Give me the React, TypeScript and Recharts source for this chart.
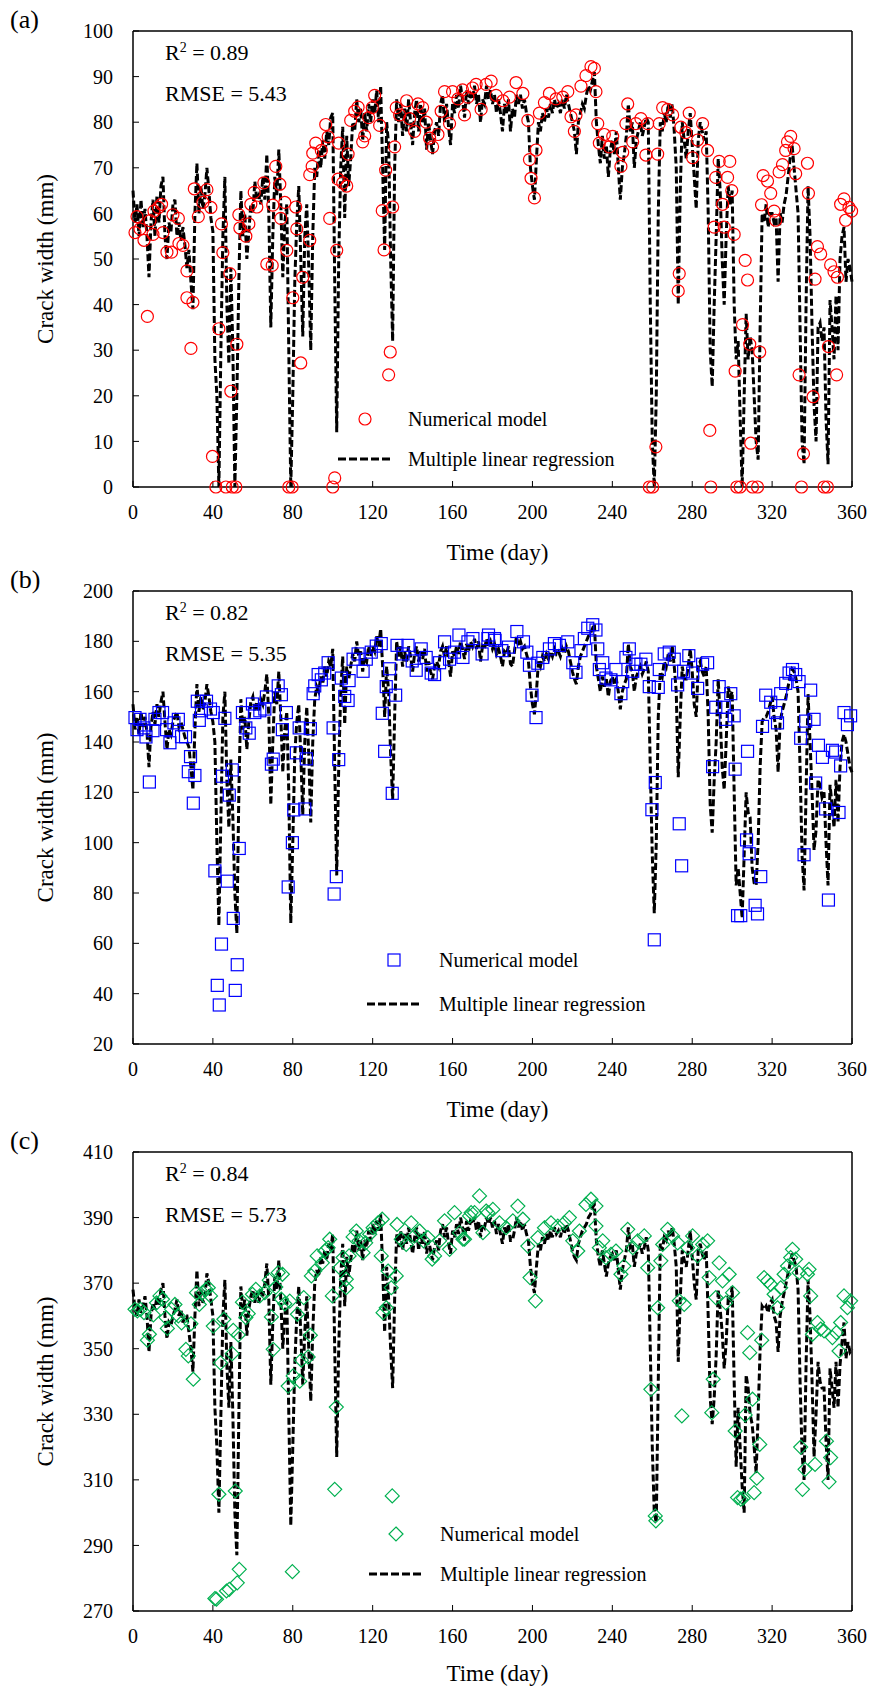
import { ComposedChart, Line, Scatter, XAxis, YAxis, ReferenceLine } from 'recharts'

// day axis shared by the three panels
const dayTicks = [0, 40, 80, 120, 160, 200, 240, 280, 320, 360]
const ticksA = [0, 10, 20, 30, 40, 50, 60, 70, 80, 90, 100]
const ticksB = [20, 40, 60, 80, 100, 120, 140, 160, 180, 200]
const ticksC = [270, 290, 310, 330, 350, 370, 390, 410]

// multiple linear regression, one value per day (day = index)
const regA = [
  65, 58, 62, 55, 63, 57, 61, 55, 46, 58, 63, 55, 64, 58, 66, 68, 55, 50, 58, 56,
  62, 63, 55, 58, 54, 57, 53, 48, 52, 45, 39, 60, 71, 60, 66, 61, 64, 70, 65, 59,
  56, 28, 20, 0, 30, 55, 68, 40, 27, 48, 30, 0, 20, 45, 65, 55, 60, 50, 56, 62,
  60, 67, 63, 64, 62, 68, 63, 73, 60, 35, 55, 68, 64, 74, 62, 46, 58, 62, 30, 0,
  20, 45, 58, 66, 50, 33, 55, 62, 48, 30, 55, 70, 68, 74, 70, 76, 72, 78, 75, 81,
  82, 45, 12, 50, 70, 79, 59, 77, 66, 72, 80, 78, 85, 80, 83, 76, 82, 78, 84, 80,
  85, 82, 87, 80, 88, 70, 52, 80, 75, 50, 32, 70, 85, 80, 84, 77, 83, 78, 85, 80,
  75, 82, 85, 78, 84, 80, 83, 74, 80, 76, 73, 78, 80, 77, 84, 86, 80, 84, 79, 75,
  84, 82, 86, 83, 88, 85, 81, 87, 84, 86, 85, 88, 84, 86, 80, 85, 84, 88, 85, 87,
  84, 86, 82, 85, 82, 78, 84, 82, 85, 78, 83, 81, 86, 84, 86, 83, 85, 82, 80, 70,
  66, 63, 72, 80, 78, 82, 80, 83, 81, 84, 82, 85, 83, 84, 82, 85, 83, 86, 84, 82,
  80, 78, 73, 80, 82, 84, 83, 86, 88, 87, 89, 91, 80, 75, 71, 77, 72, 75, 68, 74,
  76, 73, 78, 70, 63, 70, 73, 77, 84, 78, 80, 70, 76, 78, 80, 77, 79, 81, 80, 40,
  10, 0, 20, 60, 80, 78, 82, 80, 84, 81, 84, 78, 70, 40, 65, 80, 76, 72, 78, 82,
  75, 68, 61, 76, 80, 78, 76, 78, 60, 30, 22, 40, 55, 72, 65, 50, 40, 55, 66, 62,
  65, 40, 28, 32, 15, 0, 20, 38, 28, 33, 30, 20, 10, 6, 35, 60, 58, 62, 57, 60,
  60, 58, 59, 45, 60, 58, 62, 64, 68, 72, 75, 70, 65, 60, 35, 10, 5, 40, 66, 55,
  35, 18, 10, 35, 36, 32, 35, 15, 5, 41, 35, 28, 42, 30, 50, 55, 57, 45, 50, 48,
  45,
]

const regB = [
  155, 145, 150, 143, 152, 146, 150, 144, 130, 146, 152, 147, 155, 150, 156, 160, 148, 137, 145, 143,
  148, 150, 152, 146, 148, 145, 142, 140, 138, 130, 121, 145, 163, 152, 158, 153, 156, 163, 158, 152,
  148, 140, 100, 67, 110, 150, 160, 125, 106, 133, 110, 80, 64, 120, 157, 145, 150, 137, 148, 156,
  158, 152, 156, 152, 157, 155, 160, 167, 150, 115, 140, 160, 155, 168, 150, 128, 145, 152, 120, 68,
  100, 135, 148, 155, 135, 111, 140, 154, 135, 108, 140, 157, 162, 160, 166, 163, 170, 166, 172, 170,
  177, 130, 87, 130, 160, 174, 147, 170, 165, 170, 175, 172, 180, 174, 176, 168, 174, 172, 178, 174,
  178, 176, 182, 178, 185, 170, 150, 170, 160, 135, 117, 150, 180, 174, 178, 170, 176, 172, 178, 174,
  168, 175, 178, 172, 176, 173, 177, 168, 172, 168, 165, 170, 172, 170, 176, 178, 174, 178, 172, 166,
  176, 174, 178, 175, 180, 177, 173, 179, 176, 180, 178, 181, 177, 180, 172, 178, 177, 181, 178, 180,
  177, 179, 175, 177, 174, 170, 176, 175, 178, 171, 170, 176, 182, 178, 180, 177, 178, 175, 172, 162,
  155, 151, 160, 172, 170, 174, 172, 175, 173, 176, 174, 177, 175, 176, 174, 177, 175, 178, 176, 172,
  168, 165, 163, 170, 174, 176, 178, 180, 182, 183, 185, 187, 170, 165, 160, 166, 162, 165, 158, 164,
  166, 163, 165, 160, 153, 160, 163, 165, 179, 170, 168, 160, 166, 168, 170, 167, 169, 172, 168, 130,
  95, 72, 100, 150, 168, 166, 172, 170, 175, 172, 178, 170, 160, 126, 150, 170, 165, 165, 170, 177,
  168, 155, 150, 170, 172, 168, 166, 170, 150, 115, 104, 125, 140, 165, 150, 130, 121, 140, 162, 158,
  160, 120, 83, 90, 80, 70, 95, 120, 112, 110, 90, 84, 83, 100, 130, 148, 150, 150, 152, 155,
  158, 150, 145, 128, 148, 152, 155, 158, 162, 166, 169, 168, 165, 160, 130, 95, 81, 120, 159, 140,
  120, 97, 105, 125, 123, 118, 120, 100, 83, 123, 115, 106, 125, 108, 130, 140, 143, 140, 135, 130,
  128,
]

const regC = [
  368, 362, 360, 365, 361, 363, 366, 360, 349, 360, 364, 362, 366, 363, 368, 370, 360, 353, 358, 357,
  360, 362, 365, 360, 362, 358, 360, 360, 355, 350, 343, 360, 374, 363, 368, 364, 366, 373, 370, 365,
  360, 332, 320, 300, 330, 360, 371, 345, 332, 352, 330, 300, 287, 330, 369, 362, 365, 354, 362, 366,
  368, 364, 367, 364, 368, 366, 370, 376, 365, 339, 358, 372, 368, 377, 365, 350, 360, 366, 330, 296,
  320, 345, 360, 369, 355, 339, 355, 366, 350, 334, 355, 370, 374, 372, 378, 376, 380, 377, 382, 380,
  385, 350, 317, 350, 372, 382, 363, 378, 372, 377, 382, 379, 386, 380, 383, 377, 383, 381, 386, 383,
  388, 385, 389, 386, 391, 375, 355, 375, 365, 350, 338, 365, 385, 381, 386, 380, 385, 382, 387, 383,
  379, 384, 387, 380, 385, 382, 386, 379, 383, 380, 377, 381, 383, 380, 386, 388, 384, 387, 382, 379,
  386, 384, 388, 385, 390, 387, 383, 389, 386, 389, 388, 390, 386, 389, 384, 388, 387, 390, 388, 390,
  387, 389, 385, 388, 385, 382, 387, 385, 388, 383, 383, 386, 390, 387, 389, 386, 388, 385, 383, 375,
  370, 367, 375, 382, 380, 384, 382, 385, 383, 386, 384, 387, 385, 386, 384, 387, 385, 388, 386, 383,
  380, 378, 377, 382, 384, 386, 387, 388, 390, 391, 393, 394, 383, 378, 375, 380, 376, 372, 376, 378,
  379, 377, 380, 374, 368, 374, 377, 380, 387, 381, 382, 375, 379, 380, 382, 379, 381, 384, 380, 350,
  320, 300, 297, 340, 382, 380, 384, 383, 386, 384, 387, 382, 375, 346, 365, 380, 377, 375, 380, 386,
  378, 370, 365, 380, 382, 379, 377, 380, 360, 335, 327, 335, 348, 368, 362, 355, 344, 352, 365, 364,
  369, 340, 314, 332, 320, 308, 300, 342, 338, 330, 327, 320, 312, 330, 350, 363, 362, 363, 361, 364,
  365, 360, 358, 349, 360, 364, 367, 370, 373, 376, 379, 377, 375, 368, 340, 318, 310, 345, 371, 360,
  340, 317, 330, 346, 340, 338, 338, 322, 310, 344, 338, 332, 346, 332, 345, 352, 358, 347, 352, 349,
  350,
]

// numerical model results: [day, crack width]
const numA: [number, number][] = [
  [1, 55.8], [2, 59.3], [3.5, 56.6], [5.5, 54.1], [7.2, 37.4], [8.5, 58.4], [10, 55.4], [10.5, 60.5], [12.7, 61.3], [14.3, 62],
  [15, 55.8], [17, 51.5], [19.3, 51.5], [20, 59.7], [22.7, 58.9], [23, 53.4], [25, 53], [27, 47.4], [27, 41.5], [29, 30.4],
  [30, 40.5], [30.7, 65.4], [32.7, 59.3], [35, 62.4], [37, 65.2], [39, 61.3], [39.8, 6.7], [41.5, 0], [43, 34.7], [44.3, 57.7],
  [45, 51.4], [46.5, 0], [48.5, 46.8], [49, 21], [49.7, 0], [51.5, 0], [52, 31.3], [53, 59.7], [53.5, 56.8], [56.5, 55],
  [58, 57.7], [59, 62], [60.7, 64.6], [62, 61.4], [65.5, 66.7], [67, 48.9], [69.7, 48.6], [70, 61.8], [71.5, 70.3], [73.5, 66.4],
  [74, 58.9], [76, 62.4], [77, 51.9], [78, 0], [79.7, 0], [80, 41.5], [81.5, 61.4], [82, 56.6], [84, 27.2], [85, 46],
  [88.5, 54.1], [88.5, 68.5], [89.7, 70.3], [90, 73.2], [91.5, 75.4], [94.3, 73.8], [96.5, 79.5], [97.7, 76.8], [98.5, 58.9], [100, 0],
  [101, 2], [102, 51.9], [102.7, 67.5], [103, 75.4], [105, 66.7], [107, 66], [107.7, 73], [109, 80.4], [111, 82.4], [112.7, 83.3],
  [115, 75.7], [116, 77], [118, 81], [119.8, 83.2], [121, 85.9], [123.5, 79.3], [124.8, 60.6], [125.7, 52], [126.5, 69.5], [128, 24.6],
  [128.8, 29.6], [130, 61.4], [131, 74.6], [131.8, 83.2], [133.5, 81.6], [137, 84.7], [138.5, 80.8], [141, 78], [142.7, 84], [145, 83.2],
  [146.8, 80], [148.5, 76.5], [150, 74.6], [152.7, 77.3], [154.3, 82.4], [156, 86.7], [158.5, 79.7], [160, 86.7], [162.7, 85.1], [165, 87.1],
  [166, 81.6], [167.7, 85.5], [170, 87.5], [171.8, 88.3], [174.3, 82.8], [176.8, 88.3], [179.3, 89], [181.8, 85.9], [185.2, 84.7], [188.5, 85.5],
  [191.8, 88.7], [195.2, 86.3], [197.7, 80.4], [198.5, 71.8], [199.3, 67.7], [201, 63.4], [201.8, 73.9], [203.5, 82], [206, 84.3], [208.5, 86.3],
  [211.8, 85.1], [215.2, 85.5], [217.7, 86.7], [219.3, 81.2], [221, 78], [221.8, 81.6], [224.3, 87.9], [226.8, 90.2], [229.3, 92.2], [231, 91.8],
  [231.8, 86.7], [232.7, 79.7], [233.5, 75.4], [236, 77.3], [238.5, 74.6], [240.2, 76.9], [244.3, 70.3], [245.2, 73.4], [246.8, 79.7], [247.7, 84],
  [250.2, 75.7], [251.8, 79.7], [254.3, 80.8], [256.8, 72.8], [257.7, 79.7], [258.5, 0], [260.2, 0], [261.8, 8.8], [262.7, 73], [263.5, 79.7],
  [265.2, 83.2], [267.7, 82.8], [270.2, 81.6], [273, 43], [273.5, 46.8], [274.3, 78.9], [276.8, 77.7], [278.5, 82], [280.2, 72.2], [282.7, 76.1],
  [285.2, 79.7], [287.7, 73.8], [288.8, 12.4], [289.3, 0], [291, 57], [291.8, 67.9], [293.5, 71.4], [295.2, 62], [296, 57], [297.7, 67.9],
  [298.8, 71.4], [299.8, 65], [301, 55.4], [301.5, 25.4], [302.3, 0], [304, 0], [305.2, 35.6], [306.5, 49.7], [307.7, 45.4], [308.8, 31.3],
  [309.3, 9.6], [310.2, 0], [312.7, 0], [313.8, 29.6], [314.7, 61.9], [315.5, 68.3], [317.7, 67.1], [319.3, 64.4], [321, 60.5], [321.8, 58.5],
  [323.5, 69.1], [325.2, 70.7], [326.8, 73.8], [327.7, 75.7], [329.3, 76.9], [331, 74.2], [331.8, 68.7], [333.5, 24.6], [334.7, 0], [335.7, 7.3],
  [337.7, 71], [338.2, 64.4], [340.5, 19.8], [341.5, 45.6], [342.7, 52.7], [344.3, 51.1], [346, 0], [347.7, 0], [348.2, 30.8], [349.3, 48.7],
  [351, 47.2], [352.3, 24.6], [352.7, 46], [354.3, 62], [356, 63.2], [356.8, 58.5], [358.5, 61.3], [359.8, 60.5],
]

const numB: [number, number][] = [
  [1, 149.7], [2, 144.9], [3.5, 149], [5.5, 145.6], [6.5, 142], [8.2, 124.1], [10, 144.5], [11, 149], [13, 151.7], [14.8, 151.7],
  [16.8, 144.9], [18.5, 139.7], [20.5, 147.6], [22.7, 149], [24.3, 142.1], [26.3, 142.1], [27.7, 128.2], [28.8, 134.2], [30.2, 115.7], [31, 126.7],
  [32.2, 156.2], [33.2, 148.6], [34.3, 152.4], [36.8, 156.2], [38.8, 153.1], [40.2, 151.7], [41, 88.8], [42.2, 43.3], [43.2, 35.5], [44.3, 59.7],
  [44.8, 126.4], [46, 149.4], [47.2, 84.7], [48.2, 118.9], [49.7, 128.9], [50.2, 69.9], [51.2, 41.3], [52.2, 51.5], [53.2, 97.7], [54.8, 151.7],
  [56.5, 145.6], [58.2, 143.5], [59.8, 155.1], [61, 151.7], [63.5, 152.4], [66, 153.1], [66.8, 157.9], [69.3, 131.2], [70.2, 133.2], [72.7, 162.3],
  [74.3, 158.8], [74.8, 144.9], [76.8, 151.7], [77.7, 82.4], [79.8, 100], [80.5, 113], [81.8, 135.7], [83.2, 145.6], [86, 113.4], [86.8, 133.3],
  [88.8, 145.3], [90.2, 159.2], [91, 162.3], [92.7, 166.8], [94.3, 164.7], [96, 167.4], [97.7, 171.5], [100.2, 145.6], [100.7, 79.6], [101.8, 86.5],
  [103, 133], [104.3, 165.4], [106, 158.1], [107.7, 156.5], [108.2, 164.4], [110.2, 172.9], [112.7, 175], [115.2, 168.1], [116.8, 172.9], [119.3, 175.7],
  [121.8, 178.1], [124.3, 179.1], [124.8, 151.4], [126, 136.3], [126.8, 162], [128.5, 169.1], [129.8, 119.6], [131.5, 158.6], [132.2, 178.4], [135.2, 175],
  [137.7, 178.4], [139.8, 172.2], [141.8, 168.5], [144.3, 177], [146.8, 173.6], [149.3, 167.4], [151, 166.8], [153.5, 171.5], [156, 179.8], [158.5, 172.9],
  [161, 175.7], [163.2, 182.5], [165.2, 173.6], [167.7, 179.8], [170.2, 181.1], [174.8, 175], [177.7, 181.1], [178, 182.5], [181, 181.1], [181.3, 180.4],
  [184.7, 176.3], [188, 177.7], [192.2, 183.9], [195.5, 179.8], [197.2, 175.7], [198.5, 170.5], [199.8, 158.6], [201.8, 149.7], [202.7, 171.3], [205.2, 173.6],
  [208.5, 177], [211, 179.1], [213.5, 178.4], [217.7, 179.8], [220.2, 171.5], [221.8, 167.7], [224.3, 176.3], [226, 181.1], [227.7, 185.2], [230.2, 186.6],
  [231.8, 184.5], [232.7, 177], [233.5, 168.8], [235.2, 171.5], [236.8, 165.4], [239.3, 164.7], [241.8, 168.8], [244.3, 159.2], [245.2, 164], [246.8, 173.6],
  [248.5, 177], [250.2, 168.1], [251.8, 170.9], [254.3, 170.9], [256.8, 172.9], [258.5, 162], [259.8, 113.1], [261, 61.4], [261.5, 123.9], [263, 161.7],
  [263.5, 168.8], [266, 175], [268.5, 175.7], [271, 172.9], [272.7, 162.7], [273.5, 107.5], [274.7, 90.8], [275.7, 168.1], [278.3, 174.3], [280.2, 167.4],
  [282.7, 161.3], [285.2, 170.9], [287.7, 171.5], [290.2, 130.2], [291.8, 153.8], [293.5, 162], [296, 153.8], [296.8, 149], [299.3, 159.2], [301, 150.4],
  [301.5, 129.2], [302.7, 71], [304.3, 71], [307.2, 101.1], [307.7, 136.3], [308.5, 95.6], [311.5, 75.1], [312.7, 71.7], [314.3, 86.5], [315.2, 146.2],
  [316.8, 158.6], [319.3, 155.8], [321.8, 151.7], [322.7, 147.6], [324.3, 159.2], [326.8, 163.3], [328.5, 167.4], [330.2, 168.8], [331.8, 166.8], [333.5, 164],
  [334.3, 141.5], [336, 95.2], [336.8, 148.3], [339.3, 160.6], [341, 149], [341.8, 123.7], [343.2, 138.7], [345.2, 133.9], [346.8, 113.4], [348.2, 77.2],
  [350.2, 136.7], [351.8, 136], [353.5, 112], [354.3, 130.5], [356, 151.7], [357.7, 146.9], [359.3, 150.4],
]

const numC: [number, number][] = [
  [1, 362], [2.2, 361.5], [3.8, 362], [5.5, 361], [7.2, 352.6], [8.2, 354.4], [10.2, 360.3], [11.8, 364], [13.5, 366.1], [14.8, 365.1],
  [16.5, 359.5], [17.2, 356.2], [19.3, 362], [21, 363.5], [22.7, 360], [24.3, 357.9], [26.5, 349.8], [27.7, 347.8], [29, 357.6], [30.2, 340.7],
  [31.8, 367.1], [33.2, 363.5], [34.8, 367.1], [36.5, 368.1], [37.7, 368.6], [38.8, 366.1], [40.2, 356.9], [41, 273.8], [41.8, 273.6], [43, 305.6],
  [43.8, 345.7], [45.5, 359], [46.8, 276.1], [48.2, 276.6], [49.7, 348.5], [50.2, 355.6], [51.2, 306.6], [52.2, 278.6], [52.7, 354.2], [53.2, 282.7],
  [54.8, 364.2], [56.5, 359.5], [57.7, 360.7], [59.8, 366.6], [61.5, 368.1], [63.5, 366.1], [66, 367.1], [68.2, 370.9], [69.3, 359.7], [70.2, 349.8],
  [71.5, 368.8], [72.7, 373.2], [74.3, 365.1], [74.8, 372.7], [76, 363.7], [77.7, 338.6], [78.5, 364.5], [79.8, 282], [80.2, 341.7], [82.3, 360.5],
  [83.5, 340.1], [84.3, 346.5], [85.5, 365.6], [87.7, 347.5], [88.8, 354.1], [89.3, 372.2], [91, 373.7], [92.2, 378.3], [94.8, 376.2], [96, 379.8],
  [97.7, 380.8], [98.5, 383.4], [99.8, 366.1], [101, 307.1], [101.8, 332.2], [103.5, 374.7], [105.2, 377.8], [106.8, 371.2], [106.8, 368.6], [108.2, 378.3],
  [110.2, 384.1], [111.8, 385.9], [113.2, 382.9], [115.2, 379.3], [116.5, 382.3], [118.5, 384.9], [120.2, 386.9], [122.7, 388.4], [124.3, 378.3], [124.8, 389.5],
  [125.2, 361], [126.8, 362.5], [127.7, 373.7], [129.3, 368.6], [129.8, 305.1], [131.8, 372.2], [132.2, 387.9], [134.3, 383.4], [136.8, 381.8], [139.3, 388.4],
  [141, 384.4], [143.5, 385.9], [145.5, 382.9], [147.7, 383.9], [149.8, 377.3], [151, 378.3], [153.5, 382.9], [156, 389], [158.5, 380.3], [161, 391.5],
  [163.5, 385.4], [165.2, 383.4], [166, 383.4], [168.5, 390.5], [169.3, 391.5], [171, 391.5], [173.5, 396.6], [175.2, 385.4], [176.8, 392], [177.7, 391.5],
  [180.2, 392.5], [183.5, 388.4], [186.8, 386.9], [190.2, 389], [192.7, 393.5], [195.2, 389.5], [197.7, 381.3], [198.8, 371.7], [201.5, 364.6], [202.7, 383.9],
  [206, 386.9], [209.3, 388.4], [212.7, 387.4], [216, 388.4], [218.5, 390], [220.2, 382.9], [222.7, 379.8], [223.5, 385.9], [226.8, 394], [229.3, 395.6],
  [231.8, 393.5], [231.8, 387.4], [233.5, 380.8], [235.2, 382.9], [236.8, 377.8], [239.3, 378.8], [241.8, 379.8], [244.3, 372.7], [245.8, 375.2], [247.7, 386.4],
  [250.2, 380.8], [252.7, 382.9], [256, 384.4], [257.7, 374.7], [259.3, 337.6], [261.5, 299], [261.8, 297.5], [262.7, 362.5], [264.3, 376.8], [265.2, 381.8],
  [267.7, 386.4], [270.2, 384.4], [272.7, 382.3], [273.5, 364.6], [274.8, 329.5], [276, 363.5], [277.7, 380.8], [280.2, 384.4], [282.7, 378.3], [285.2, 381.8],
  [287.7, 382.9], [288.5, 371.7], [289.8, 330.5], [290.5, 340.7], [291.8, 365.6], [293.5, 376.2], [295.2, 370.7], [296.8, 364], [298.5, 372.7], [300.2, 367.1],
  [301.5, 324.9], [302.7, 304.6], [304.3, 304.1], [305.5, 304.4], [306.5, 329.8], [307.7, 354.9], [308.8, 348.8], [310.2, 334.6], [311, 306.1], [312.3, 310.5],
  [313.8, 320.8], [314.8, 352.6], [316, 371.7], [317.7, 370.7], [319.3, 369.6], [321, 366.6], [322.7, 362.5], [324.3, 368.6], [326, 372.7], [327.7, 375.2],
  [329.3, 377.8], [330.2, 380.3], [331.8, 377.3], [333.5, 373.2], [334.3, 320], [335.2, 307.1], [336.5, 313.2], [337.7, 372.7], [338.5, 374.2], [339.3, 366.1],
  [340.2, 354.4], [341.5, 314.7], [342.7, 358], [344.3, 356], [346, 355.4], [347.2, 321.8], [348.5, 309.4], [349.3, 316.8], [350.2, 353.4], [352.2, 354.9],
  [353.5, 349.3], [354.3, 358], [356, 366.1], [357.7, 362.5], [359.3, 364.6],
]

const serif = "'Liberation Serif', 'DejaVu Serif', Tinos, 'Times New Roman', Times, serif"

type Kind = 'circle' | 'square' | 'diamond'

function Mark({ kind, color, cx, cy }: { kind: Kind; color: string; cx: number; cy: number }) {
  if (kind === 'circle') return <circle cx={cx} cy={cy} r={6} fill="none" stroke={color} strokeWidth={1.2} />
  if (kind === 'square') return <rect x={cx - 6} y={cy - 6} width={12} height={12} fill="none" stroke={color} strokeWidth={1.2} />
  return <path d={`M${cx},${cy - 7}L${cx + 7},${cy}L${cx},${cy + 7}L${cx - 7},${cy}Z`} fill="none" stroke={color} strokeWidth={1.2} />
}

interface PanelProps {
  tag: string
  top: number
  height: number
  mTop: number
  mBottom: number
  xHeight: number
  ticks: number[]
  reg: number[]
  num: [number, number][]
  kind: Kind
  color: string
  r2: string
  rmse: string
  legend: { mx: number; my: number; ly: number; x1: number; x2: number; tx: number }
}

function Panel(p: PanelProps) {
  const regData = p.reg.map((v, d) => ({ d, v }))
  const numData = p.num.map(([d, v]) => ({ d, v }))
  const yMin = p.ticks[0]
  const yMax = p.ticks[p.ticks.length - 1]
  const plotTop = p.mTop
  const txt = { position: 'absolute' as const, fontFamily: serif, color: '#000', whiteSpace: 'nowrap' as const }
  const lg = p.legend

  return (
    <div style={{ position: 'absolute', left: 0, top: p.top, width: 872, height: p.height }}>
      <ComposedChart
        width={872}
        height={p.height}
        margin={{ top: p.mTop, right: 20, bottom: p.mBottom, left: 13 }}
        style={{ fontFamily: serif }}
      >
        <XAxis
          type="number"
          dataKey="d"
          domain={[0, 360]}
          ticks={dayTicks}
          height={p.xHeight}
          tickSize={-6}
          tickMargin={24}
          axisLine={{ stroke: '#000', strokeWidth: 1.5 }}
          tickLine={{ stroke: '#000', strokeWidth: 1 }}
          tick={{ fill: '#000', fontSize: 20, fontFamily: serif }}
          label={{ value: 'Time (day)', position: 'insideBottom', offset: 0, dx: 5, fill: '#000', fontSize: 23, fontFamily: serif }}
        />
        <YAxis
          type="number"
          domain={[yMin, yMax]}
          ticks={p.ticks}
          width={120}
          tickSize={-6}
          tickMargin={26}
          axisLine={{ stroke: '#000', strokeWidth: 1.5 }}
          tickLine={{ stroke: '#000', strokeWidth: 1 }}
          tick={{ fill: '#000', fontSize: 20, fontFamily: serif }}
          label={{
            value: 'Crack width (mm)',
            angle: -90,
            position: 'insideLeft',
            offset: 32,
            fill: '#000',
            fontSize: 23,
            fontFamily: serif,
            style: { textAnchor: 'middle' },
          }}
        />
        <ReferenceLine y={yMax} stroke="#000" strokeWidth={1.5} />
        <ReferenceLine x={360} stroke="#000" strokeWidth={1.5} />
        <Scatter
          data={numData}
          dataKey="v"
          isAnimationActive={false}
          shape={(s: any) => <Mark kind={p.kind} color={p.color} cx={s.cx} cy={s.cy} />}
        />
        <Line
          data={regData}
          dataKey="v"
          type="linear"
          stroke="#000"
          strokeWidth={3}
          strokeDasharray="7 3"
          dot={false}
          activeDot={false}
          isAnimationActive={false}
        />
      </ComposedChart>

      <div style={{ ...txt, left: 10, top: plotTop - 24, fontSize: 26, lineHeight: '26px' }}>({p.tag})</div>
      <div style={{ ...txt, left: 165, top: plotTop + 22 - 12, fontSize: 22, lineHeight: '24px' }}>
        R<sup style={{ fontSize: 14, verticalAlign: 'top', lineHeight: '14px' }}>2</sup> = {p.r2}
      </div>
      <div style={{ ...txt, left: 165, top: plotTop + 63 - 12, fontSize: 22, lineHeight: '24px' }}>RMSE = {p.rmse}</div>

      <svg width={872} height={p.height} style={{ position: 'absolute', left: 0, top: 0, pointerEvents: 'none' }}>
        <Mark kind={p.kind} color={p.color} cx={lg.mx} cy={lg.my} />
        <line x1={lg.x1} x2={lg.x2} y1={lg.ly} y2={lg.ly} stroke="#000" strokeWidth={3} strokeDasharray="8 3" />
      </svg>
      <div style={{ ...txt, left: lg.tx, top: lg.my - 12, fontSize: 20, lineHeight: '24px' }}>Numerical model</div>
      <div style={{ ...txt, left: lg.tx, top: lg.ly - 12, fontSize: 20, lineHeight: '24px' }}>Multiple linear regression</div>
    </div>
  )
}

export default function App() {
  return (
    <div style={{ position: 'absolute', left: 0, top: 0, width: 872, height: 1686, background: '#fff' }}>
      <Panel
        tag="a" top={0} height={580} mTop={31} mBottom={20} xHeight={73} ticks={ticksA} reg={regA} num={numA}
        kind="circle" color="#ff0000" r2="0.89" rmse="5.43"
        legend={{ mx: 365, my: 419, ly: 459, x1: 338, x2: 392, tx: 408 }}
      />
      <Panel
        tag="b" top={560} height={580} mTop={31} mBottom={23} xHeight={73} ticks={ticksB} reg={regB} num={numB}
        kind="square" color="#0000ff" r2="0.82" rmse="5.35"
        legend={{ mx: 394, my: 400, ly: 444, x1: 367, x2: 421, tx: 439 }}
      />
      <Panel
        tag="c" top={1120} height={566} mTop={32} mBottom={5} xHeight={70} ticks={ticksC} reg={regC} num={numC}
        kind="diamond" color="#00b050" r2="0.84" rmse="5.73"
        legend={{ mx: 396, my: 414, ly: 454, x1: 369, x2: 421, tx: 440 }}
      />
    </div>
  )
}
